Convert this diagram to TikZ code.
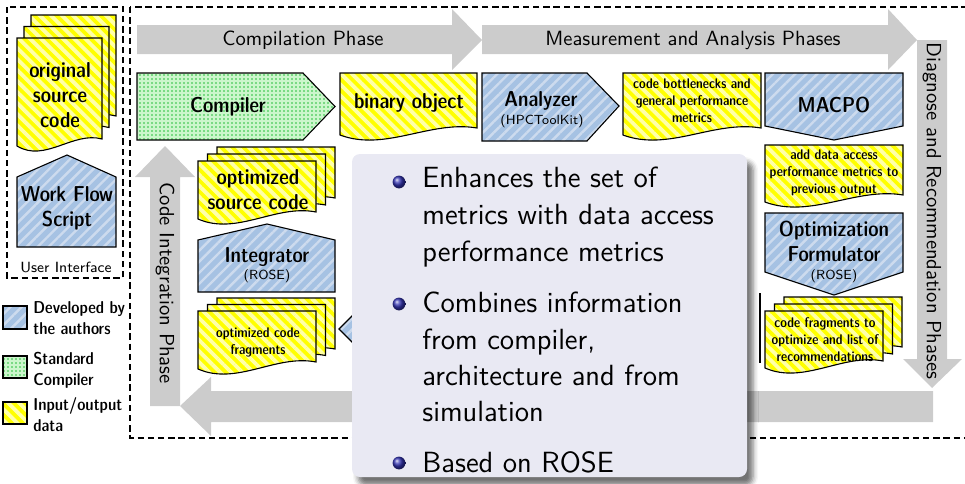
\documentclass[tikz,border=0pt]{standalone}
\usetikzlibrary{patterns.meta,shadows.blur}

\definecolor{ioyellow}{RGB}{255,255,0}
\definecolor{iostripe}{RGB}{255,255,170}
\definecolor{devblue}{RGB}{166,194,227}
\definecolor{devstripe}{RGB}{205,219,238}
\definecolor{stdgreen}{RGB}{204,246,204}
\definecolor{stddot}{RGB}{40,190,60}
\definecolor{phasegray}{RGB}{204,204,204}
\definecolor{panelbg}{RGB}{233,233,243}
\definecolor{bulletblue}{RGB}{51,51,179}

% fonts
\newcommand\fLbl{\sffamily\fontseries{sbc}\fontsize{10.8}{12.5}\selectfont}
\newcommand\fSmall{\sffamily\fontseries{sbc}\fontsize{7}{8.4}\selectfont}
\newcommand\fSub{\sffamily\fontsize{6.6}{8}\selectfont}
\newcommand\fPhase{\sffamily\fontsize{10.3}{12}\selectfont}
\newcommand\fLeg{\sffamily\fontseries{sbc}\fontsize{8.6}{10.5}\selectfont}
\newcommand\fUI{\sffamily\fontsize{7.4}{9}\selectfont}
\newcommand\fPanel{\sffamily\fontsize{14.6}{18.5}\selectfont}

% document shape with a wavy bottom: style, x1, top, x2, lowest point of the wave
\newcommand\docpath[5]{%
  \pgfmathsetmacro\dpA{#2}\pgfmathsetmacro\dpB{#3}%
  \pgfmathsetmacro\dpC{#4}\pgfmathsetmacro\dpD{#5}%
  \path[#1] (\dpA,\dpB) -- (\dpC,\dpB) -- (\dpC,\dpD-13)
    .. controls ({\dpA+0.66*(\dpC-\dpA)},\dpD-21) and ({\dpA+0.33*(\dpC-\dpA)},\dpD+11)
    .. (\dpA,\dpD-6) -- cycle;}
% stack of three documents: style, x1, top, x2, wave bottom, dx, dy
\newcommand\docstack[7]{%
  \docpath{#1}{(#2)+2*(#6)}{(#3)+2*(#7)}{(#4)+2*(#6)}{(#5)+2*(#7)}%
  \docpath{#1}{(#2)+(#6)}{(#3)+(#7)}{(#4)+(#6)}{(#5)+(#7)}%
  \docpath{#1}{#2}{#3}{#4}{#5}}

\begin{document}
\begin{tikzpicture}[x=0.5pt,y=-0.5pt,
  outline/.style={draw=black,line width=0.55pt},
  io/.style={outline,preaction={fill=ioyellow},
    pattern={Lines[angle=-45,distance=3.9pt,line width=1.9pt]},pattern color=iostripe},
  dev/.style={outline,preaction={fill=devblue},
    pattern={Lines[angle=45,distance=3.9pt,line width=1.2pt]},pattern color=devstripe},
  std/.style={outline,preaction={fill=stdgreen},
    pattern={Dots[distance=2pt,radius=0.4pt]},pattern color=stddot},
  phase/.style={fill=phasegray},
  frame/.style={draw=black,line width=0.55pt,dash pattern=on 3.2pt off 1.9pt},
  txt/.style={inner sep=0pt,align=center,text=black},
  ptxt/.style={inner sep=0pt,anchor=base west,font=\fPanel,text=black}]

\useasboundingbox (0,0) rectangle (965,483);
\begin{scope}
\clip (0,0) rectangle (965,483);

% dashed frames
\draw[frame] (7,7) rectangle (123,278);
\draw[frame] (130,7) rectangle (990,438);

% phase arrows
\path[phase] (137,25) -- (452,25) -- (452,9) -- (482,40) -- (452,70) -- (452,54) -- (137,54) -- cycle;
\path[phase] (482,25) -- (888,25) -- (888,9) -- (917,40) -- (888,70) -- (888,54) -- (482,54) -- cycle;
\path[phase] (917,40) -- (947,40) -- (947,359) -- (962,359) -- (932,388) -- (903,359) -- (917,359) -- cycle;
\path[phase] (933,391) -- (933,422) -- (211,422) -- (211,436) -- (180,406) -- (211,377) -- (211,391) -- cycle;
\path[phase] (150,406) -- (180,406) -- (180,177) -- (195,177) -- (165,146) -- (135,177) -- (150,177) -- cycle;

\node[txt,font=\fPhase] (compphase) at (303,40) {Compilation Phase};
\node[txt,font=\fPhase] (measphase) at (693,40) {Measurement and Analysis Phases};
\node[txt,font=\fPhase,rotate=-90] (diagphase) at (932,211) {Diagnose and Recommendation Phases};
\node[txt,font=\fPhase,rotate=-90] (intphase) at (165,283) {Code Integration Phase};

% user interface
\docstack{io}{17}{38}{102}{152}{7}{-11.5}
\node[txt,font=\fLbl] (origsrc) at (60,95) {original\\source\\code};
\path[dev] (17,247) -- (17,177) -- (67,155) -- (116,177) -- (116,247) -- cycle;
\node[txt,font=\fLbl] (wfs) at (67,208) {Work Flow\\Script};
\node[txt,font=\fUI] (ui) at (66,267) {User Interface};

% compilation
\path[std] (137,73) -- (303,73) -- (335,106.5) -- (303,140) -- (137,140) -- cycle;
\node[txt,font=\fLbl] (compiler) at (228,107) {Compiler};
\docpath{io}{340}{73}{477}{141}
\node[txt,font=\fLbl] (binobj) at (409,103) {binary object};

% measurement and analysis
\path[dev] (482,73) -- (587,73) -- (619,106) -- (587,141) -- (482,141) -- cycle;
\node[txt,font=\fLbl] (analyzer) at (541,101) {Analyzer};
\node[txt,font=\fSub] (hpctk) at (542,121) {(HPCToolKit)};
\docpath{io}{623}{73}{761}{141}
\node[txt,font=\fSmall] (bottlenecks) at (692,100.5) {code bottlenecks and\\general performance\\metrics};
\path[dev] (765,73) -- (903,73) -- (903,126) -- (834,140) -- (765,126) -- cycle;
\node[txt,font=\fLbl] (macpo) at (834,105) {MACPO};

% diagnose and recommendation
\docpath{io}{765}{145}{903}{208}
\node[txt,font=\fSmall] (dataaccess) at (834,173) {add data access\\performance metrics to\\previous output};
\path[dev] (765,213) -- (903,213) -- (903,272) -- (834,295) -- (765,272) -- cycle;
\node[txt,font=\fLbl] (optform) at (834,241) {Optimization\\Formulator};
\node[txt,font=\fSub] (optrose) at (834,276) {(ROSE)};
\docstack{io}{765}{311}{883}{374}{9.5}{-7}
\node[txt,font=\fSmall] (fragsrec) at (825,339.5) {code fragments to\\optimize and list of\\recommendations};
\draw[line width=0.55pt] (760,293) -- (760,363);

% code integration
\docstack{io}{198}{161}{316}{225}{9.5}{-7}
\node[txt,font=\fLbl] (optsrc) at (258,190) {optimized\\source code};
\path[dev] (198,292) -- (198,240) -- (267,224) -- (335,240) -- (335,292) -- cycle;
\node[txt,font=\fLbl] (integrator) at (267,257) {Integrator};
\node[txt,font=\fSub] (introse) at (267,276) {(ROSE)};
\docstack{io}{198}{311}{316}{375}{9.5}{-6.5}
\node[txt,font=\fSmall] (optfrags) at (258,342.5) {optimized code\\fragments};
\path[dev] (339,329) -- (380,288) -- (740,288) -- (740,370) -- (380,370) -- cycle;

\end{scope}

% legend
\path[dev] (3,306) rectangle (27,329);
\node[txt,font=\fLeg,anchor=west,align=left] (legdev) at (33,318) {Developed by\\the authors};
\path[std] (3,356) rectangle (27,378);
\node[txt,font=\fLeg,anchor=west,align=left] (legstd) at (33,370) {Standard\\Compiler};
\path[io] (3,402) rectangle (27,424);
\node[txt,font=\fLeg,anchor=west,align=left] (legio) at (33,415) {Input/output\\data};

% description panel
\path[fill=panelbg,rounded corners=4pt,
  blur shadow={shadow xshift=3pt,shadow yshift=-4pt,shadow blur radius=2.5pt,shadow opacity=55}]
  (352,154) rectangle (747,477);
\shade[ball color=bulletblue] (399,182) circle[radius=3.2pt];
\shade[ball color=bulletblue] (399,304) circle[radius=3.2pt];
\shade[ball color=bulletblue] (399,463) circle[radius=3.2pt];
\node[ptxt] (p1a) at (422,187) {Enhances the set of};
\node[ptxt] (p1b) at (422,224) {metrics with data access};
\node[ptxt] (p1c) at (422,261) {performance metrics};
\node[ptxt] (p2a) at (422,312) {Combines information};
\node[ptxt] (p2b) at (422,349) {from compiler,};
\node[ptxt] (p2c) at (422,385) {architecture and from};
\node[ptxt] (p2d) at (422,421) {simulation};
\node[ptxt] (p3a) at (422,472) {Based on ROSE};
\end{tikzpicture}
\end{document}
